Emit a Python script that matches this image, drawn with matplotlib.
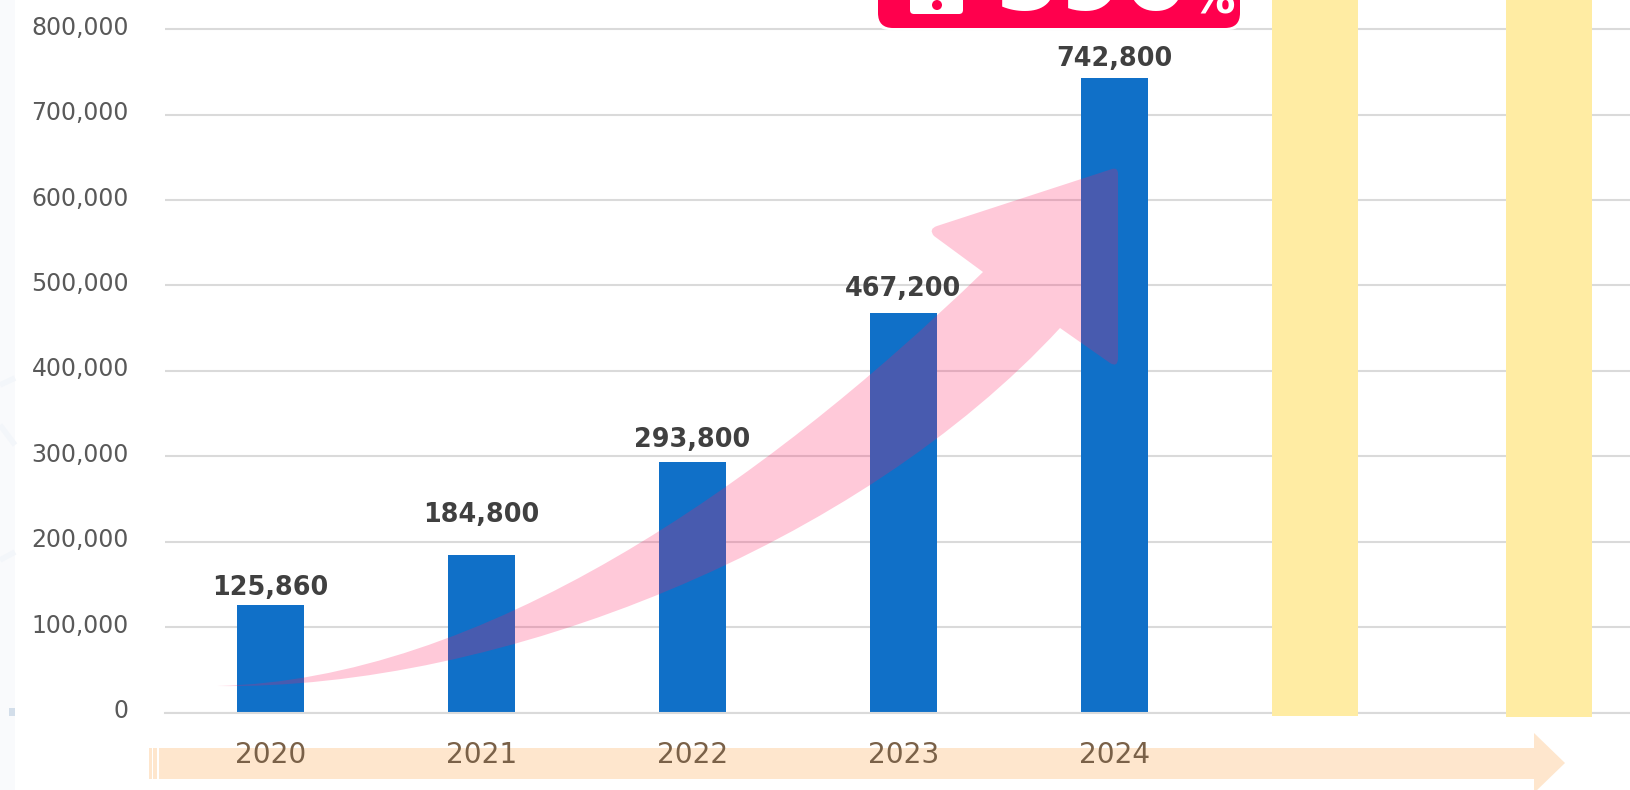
import matplotlib
matplotlib.use("Agg")
import matplotlib.pyplot as plt
from matplotlib.patches import FancyBboxPatch, PathPatch, Polygon, Rectangle, Circle
from matplotlib.path import Path
from matplotlib.ticker import FuncFormatter
from matplotlib.transforms import ScaledTranslation

W, H = 1630, 790
AX_LEFT, AX_ZERO = 165, 712.7   # pixels
PX_PER_100K = 85.45
CAT_STEP, CAT_FIRST = 211, 270.3

years = ["2020", "2021", "2022", "2023", "2024"]
sales = [125860, 184800, 293800, 467200, 742800]
y_ticks = [0, 100000, 200000, 300000, 400000, 500000, 600000, 700000, 800000]
badge_number = "590"
badge_unit = "%"

# the value labels do not sit at a constant distance above the bars
label_lift = [17, 40, 22, 24, 19]

BLUE = "#1070C8"
PINK = (1.0, 0.1, 0.38, 0.235)
RED = "#FF004D"
ORANGE = "#FEE6CD"
YELLOW = "#FFECA3"

plt.rcParams["font.family"] = ["DejaVu Sans"]
fig = plt.figure(figsize=(W / 100, H / 100), dpi=100, facecolor="white")


def pixel_axes(zorder):
    a = fig.add_axes([0, 0, 1, 1], zorder=zorder)
    a.set_xlim(0, W)
    a.set_ylim(H, 0)
    a.axis("off")
    return a


# --- behind the chart: page edge and the timeline arrow ---------------------
bg = pixel_axes(0)
bg.add_patch(Rectangle((0, 0), 15, H, color="#F9FAFC", lw=0))
for y0, y1 in [(385, 378), (425, 445), (560, 552)]:
    bg.plot([0, 15], [y0, y1], color="#F3F6FA", lw=4, solid_capstyle="butt")
bg.add_patch(Rectangle((9, 708), 6, 8, color="#D3DEEA", lw=0))
bg.add_patch(Rectangle((149, 748), 3, 31, color=ORANGE, lw=0))
bg.add_patch(Rectangle((153, 748), 4, 31, color=ORANGE, lw=0))
bg.add_patch(Polygon([(159, 748), (1534, 748), (1534, 733), (1565, 763),
                      (1534, 793), (1534, 779), (159, 779)], color=ORANGE, lw=0))

# --- the chart itself -------------------------------------------------------
ax = fig.add_axes([AX_LEFT / W, (H - AX_ZERO) / H, (W - AX_LEFT) / W, AX_ZERO / H], zorder=1)
ax.patch.set_visible(False)
ax.set_xlim((AX_LEFT - CAT_FIRST) / CAT_STEP, (W - CAT_FIRST) / CAT_STEP)
ax.set_ylim(0, AX_ZERO / PX_PER_100K * 100000)
for s in ax.spines.values():
    s.set_visible(False)

xs = list(range(len(years)))
ax.bar(xs, sales, width=66.5 / CAT_STEP, color=BLUE, zorder=2)
ax.set_yticks(y_ticks)
ax.yaxis.set_major_formatter(FuncFormatter(lambda v, _: f"{v:,.0f}"))
ax.grid(axis="y", color="#DADADA", lw=1.5, zorder=1)
ax.axhline(0, color="#DADADA", lw=1.5, zorder=3, clip_on=False)
ax.set_axisbelow(True)
ax.set_xticks(xs, years)
ax.tick_params(axis="y", length=0, pad=26, labelsize=17, labelcolor="#595959")
ax.tick_params(axis="x", length=0, pad=20.5, labelsize=20.2, labelcolor="#7A6148")

lift = ScaledTranslation(0, 4 / 100, fig.dpi_scale_trans)
for lab in ax.get_yticklabels():
    lab.set_transform(lab.get_transform() + lift)

for x, v, dy in zip(xs, sales, label_lift):
    ax.annotate(f"{v:,}", (x, v), xytext=(0, dy * 0.72), textcoords="offset points",
                ha="center", va="center", fontsize=18.4, fontweight="bold",
                color="#404040", zorder=5, annotation_clip=False)

# --- on top: covered-up bars, growth arrow, badge ---------------------------
fg = pixel_axes(2)
fg.add_patch(Rectangle((1272, -5), 86, 720.7, color=YELLOW, lw=0))
fg.add_patch(Rectangle((1506, -5), 86, 721.7, color=YELLOW, lw=0))

arrow = Path(
    [(217, 686),
     (480, 680), (760, 488), (983, 272),
     (934, 236),
     (928, 229), (937, 226),
     (1112, 169),
     (1118, 167), (1118, 174),
     (1118, 358),
     (1118, 368), (1110, 363),
     (1060, 328),
     (860, 545), (500, 690), (217, 686),
     (217, 686)],
    [Path.MOVETO,
     Path.CURVE4, Path.CURVE4, Path.CURVE4,
     Path.LINETO,
     Path.CURVE3, Path.CURVE3,
     Path.LINETO,
     Path.CURVE3, Path.CURVE3,
     Path.LINETO,
     Path.CURVE3, Path.CURVE3,
     Path.LINETO,
     Path.CURVE4, Path.CURVE4, Path.CURVE4,
     Path.CLOSEPOLY])
fg.add_patch(PathPatch(arrow, facecolor=PINK, lw=0))

fg.add_patch(FancyBboxPatch((875, -40), 368, 70, boxstyle="round,pad=0,rounding_size=15",
                            fc="white", ec="none"))
fg.add_patch(FancyBboxPatch((878, -40), 362, 68, boxstyle="round,pad=0,rounding_size=15",
                            fc=RED, ec="none"))
fg.add_patch(FancyBboxPatch((910, -30), 53, 44, boxstyle="round,pad=0,rounding_size=4",
                            fc="white", ec="none"))
fg.add_patch(Circle((937, 5), 5, fc=RED, ec="none"))
fg.text(1092, 10, badge_number, ha="center", va="baseline", fontsize=67, fontweight="bold",
        color="white")
fg.text(1213, 13, badge_unit, ha="center", va="baseline", fontsize=32, fontweight="bold",
        color="white")

fig.savefig("out.png", dpi=100)
